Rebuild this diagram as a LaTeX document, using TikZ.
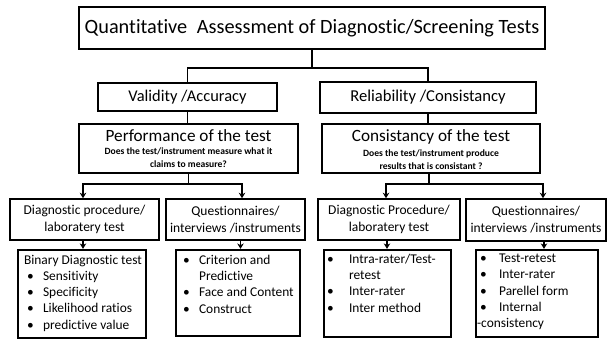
\documentclass[tikz,border=0pt]{standalone}
\usepackage{fontspec}
\setmainfont{Carlito}[Ligatures=NoCommon]
\usetikzlibrary{arrows.meta,calc}
\newcommand\bul[2][16pt]{\makebox[#1][l]{\textbullet}#2}
\begin{document}
\begin{tikzpicture}[x=1pt,y=-1pt,
  box/.style={draw,line width=1.6pt,inner sep=0pt,align=center},
  lbox/.style={draw,line width=2.2pt,inner sep=0pt},
  mid/.style={box,font=\fontsize{13.5}{17}\selectfont},
  txt/.style={inner sep=0pt,anchor=north west,align=left,font=\fontsize{13.4}{16.2}\selectfont},
  conn/.style={line width=1.7pt},
  arr/.style={line width=1.7pt,-{Stealth[length=5.5pt,width=6.5pt]}}]
\useasboundingbox (0,0) rectangle (608,339);
% top
\node[box,minimum width=466,minimum height=42,font=\fontsize{20.3}{24}\selectfont] (title) at (312,28) {Quantitative\hspace{0.25em} Assessment of Diagnostic/Screening Tests};
\node[box,minimum width=179,minimum height=28,font=\fontsize{16.4}{19}\selectfont] (valid) at (187.5,97) {Validity /Accuracy};
\node[box,minimum width=216,minimum height=31,font=\fontsize{16.6}{19}\selectfont] (rel) at (428,97.5) {Reliability /Consistancy};
\node[box,minimum width=219,minimum height=49] (perf) at (188.5,148.5) {};
\node[box,minimum width=218,minimum height=49] (cons) at (431,148.5) {};
\node[inner sep=0pt,align=center,font=\fontsize{17.2}{20}\selectfont] (perft) at (188.5,136) {Performance of the test};
\node[inner sep=0pt,align=center,font=\bfseries\fontsize{9.6}{13}\selectfont] (perfs) at (188.5,158) {Does the test/instrument measure what it\\claims to measure?};
\node[inner sep=0pt,align=center,font=\fontsize{17.2}{20}\selectfont] (const) at (431,137) {Consistancy of the test};
\node[inner sep=0pt,align=center,font=\bfseries\fontsize{9.6}{13}\selectfont] (conss) at (431,159.5) {Does the test/instrument produce\\results that is consistant ?};
% middle row
\node[mid,minimum width=149,minimum height=41] (diag) at (84.5,219.5) {Diagnostic procedure/\\laboratery test};
\node[mid,minimum width=139,minimum height=41] (quest) at (235.5,219.5) {Questionnaires/\\interviews /instruments};
\node[mid,minimum width=142,minimum height=41] (diagr) at (389,219.5) {Diagnostic Procedure/\\laboratery test};
\node[mid,minimum width=140,minimum height=42] (questr) at (536,220) {Questionnaires/\\interviews /instruments};
% bottom row
\node[lbox,minimum width=128,minimum height=88] (bin) at (82,294) {};
\node[lbox,minimum width=124,minimum height=86] (crit) at (238,293) {};
\node[lbox,minimum width=127,minimum height=87] (intra) at (387.5,293.5) {};
\node[lbox,minimum width=122,minimum height=87] (tr) at (537,293.5) {};
\node[txt] (bint) at ([xshift=7pt,yshift=-6pt]bin.north west) {Binary Diagnostic test\\\hspace*{3pt}\bul{Sensitivity}\\\hspace*{3pt}\bul{Specificity}\\\hspace*{3pt}\bul{Likelihood ratios}\\\hspace*{3pt}\bul{predictive value}};
\node[txt] (critt) at ([xshift=8pt,yshift=-6pt]crit.north west) {\bul{Criterion and}\\\hspace*{16pt}Predictive\\\bul{Face and Content}\\\bul{Construct}};
\node[txt] (intrat) at ([xshift=4pt,yshift=-5pt]intra.north west) {\bul[22pt]{Intra-rater/Test-}\\\hspace*{22pt}retest\\\bul[22pt]{Inter-rater}\\\bul[22pt]{Inter method}};
\node[txt] (trt) at ([xshift=2pt,yshift=-5pt]tr.north west) {\hspace*{3pt}\bul[19pt]{Test-retest}\\\hspace*{3pt}\bul[19pt]{Inter-rater}\\\hspace*{3pt}\bul[19pt]{Parellel form}\\\hspace*{3pt}\bul[19pt]{Internal}\\-consistency};
% connectors
\draw[conn] (title.south) -- ++(0,18) coordinate (tf);
\draw[conn] (tf) -| (valid.north);
\draw[conn] (tf) -| (rel.north);
\draw[conn] (valid.south) -- (valid.south |- perf.north);
\draw[conn] (rel.south) -- (rel.south |- cons.north);
\draw[conn] (perf.south) -- ++(0,10) coordinate (lf);
\draw[arr] (lf) -| ([xshift=-1.5pt]diag.north);
\draw[arr] (lf) -| ([xshift=6.5pt]quest.north);
\draw[conn] ([xshift=-2pt]cons.south) -- ++(0,10) coordinate (rf);
\draw[arr] (rf) -| ([xshift=-3pt]diagr.north);
\draw[arr] (rf) -| ([xshift=7pt]questr.north);
\draw[arr] ([xshift=-1.5pt]diag.south) -- ([xshift=-1.5pt]diag.south |- bin.north);
\draw[arr] ([xshift=5pt]quest.south) -- ([xshift=5pt]quest.south |- crit.north);
\draw[arr] ([xshift=-2pt]diagr.south) -- ([xshift=-2pt]diagr.south |- intra.north);
\draw[arr] ([xshift=8pt]questr.south) -- ([xshift=8pt]questr.south |- tr.north);
\end{tikzpicture}
\end{document}
